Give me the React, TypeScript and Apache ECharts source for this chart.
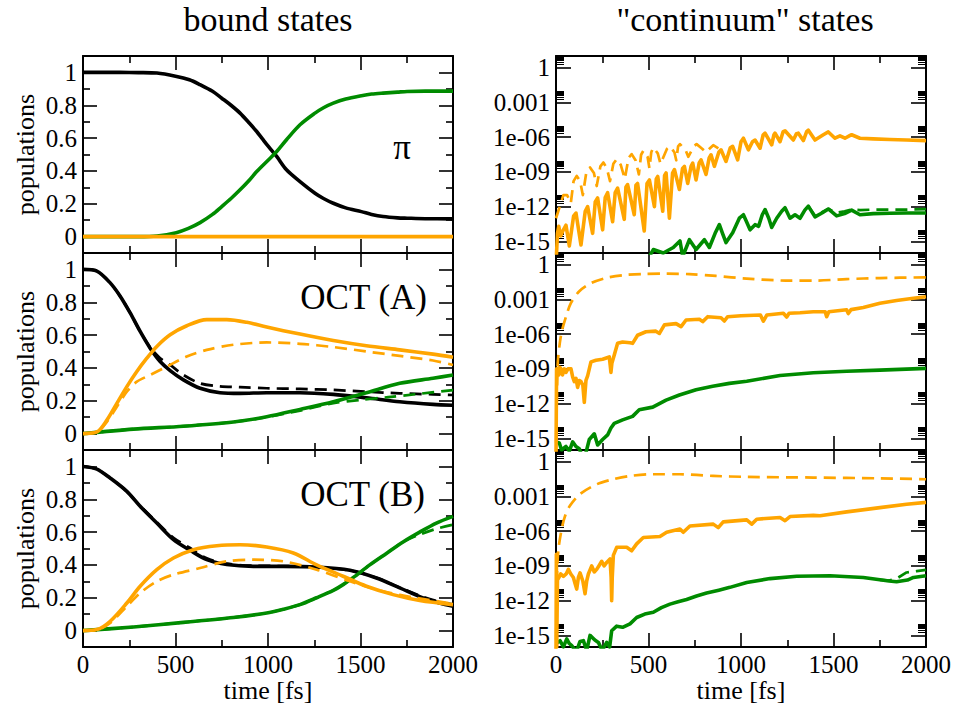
import { useEffect, useRef } from 'react';
import * as echarts from 'echarts';

type P = [number, number];

// ---------------- tick values / labels ----------------
const linMajorTicks = [0, 0.2, 0.4, 0.6, 0.8, 1];
const linMinorTicks = [0.1, 0.3, 0.5, 0.7, 0.9];
const logMajorTicks = [1e-15, 1e-12, 1e-9, 1e-6, 1e-3, 1];
const logMajorLabels = ['1e-15', '1e-12', '1e-09', '1e-06', '0.001', '1'];
const logMinorFactors = [2, 3, 4, 5, 6, 7, 8, 9];

const columnTitles = ['bound states', '"continuum" states'];
const panelLabels = ['π', 'OCT (A)', 'OCT (B)'];

// ---------------- bound states: pi pulse ----------------
const piBlack: P[] = [[0, 1], [200, 1], [300, 0.999], [400, 0.996], [500, 0.977], [575, 0.955], [633, 0.925], [700, 0.885], [750, 0.843], [800, 0.8], [849, 0.752], [900, 0.69], [939, 0.64], [970, 0.595], [1002, 0.549], [1047, 0.488], [1100, 0.407], [1173, 0.335], [1254, 0.264], [1300, 0.232], [1353, 0.203], [1420, 0.175], [1505, 0.152], [1560, 0.135], [1622, 0.122], [1700, 0.114], [1752, 0.112], [1850, 0.109], [2000, 0.108]];
const piGreen: P[] = [[0, 0], [300, 0], [400, 0.004], [504, 0.024], [570, 0.05], [633, 0.085], [700, 0.135], [750, 0.183], [800, 0.232], [849, 0.285], [900, 0.345], [939, 0.396], [1002, 0.467], [1047, 0.518], [1100, 0.59], [1173, 0.681], [1254, 0.752], [1300, 0.785], [1353, 0.813], [1420, 0.838], [1505, 0.858], [1560, 0.868], [1622, 0.874], [1700, 0.88], [1752, 0.884], [1850, 0.886], [2000, 0.886]];
const piOrange: P[] = [[0, 0], [500, 0], [1000, 0], [1500, 0], [2000, 0]];

// ---------------- bound states: OCT (A) ----------------
const aBlack: P[] = [[0, 1], [75, 0.99], [147, 0.918], [201, 0.837], [255, 0.735], [309, 0.622], [363, 0.52], [417, 0.439], [471, 0.384], [543, 0.327], [633, 0.276], [741, 0.249], [849, 0.245], [993, 0.249], [1173, 0.249], [1353, 0.239], [1532, 0.218], [1712, 0.194], [1892, 0.178], [2000, 0.173]];
const aBlackDash: P[] = [[0, 1], [75, 0.99], [147, 0.918], [201, 0.837], [255, 0.735], [309, 0.622], [363, 0.525], [417, 0.459], [471, 0.418], [543, 0.357], [633, 0.306], [741, 0.288], [849, 0.283], [993, 0.276], [1173, 0.272], [1353, 0.266], [1532, 0.255], [1712, 0.245], [1892, 0.239], [2000, 0.235]];
const aOrange: P[] = [[0, 0], [75, 0.01], [129, 0.082], [183, 0.184], [237, 0.286], [291, 0.378], [345, 0.459], [399, 0.531], [471, 0.602], [561, 0.657], [669, 0.694], [777, 0.694], [885, 0.678], [993, 0.649], [1173, 0.606], [1353, 0.567], [1532, 0.535], [1712, 0.51], [1892, 0.484], [2000, 0.465]];
const aOrangeDash: P[] = [[0, 0], [75, 0.008], [129, 0.071], [183, 0.163], [237, 0.255], [291, 0.316], [363, 0.357], [453, 0.408], [561, 0.469], [669, 0.51], [813, 0.541], [993, 0.555], [1173, 0.547], [1353, 0.527], [1532, 0.5], [1712, 0.473], [1892, 0.445], [2000, 0.418]];
const aGreen: P[] = [[0, 0], [273, 0.027], [543, 0.045], [813, 0.071], [993, 0.102], [1173, 0.147], [1353, 0.194], [1532, 0.249], [1712, 0.306], [1892, 0.337], [2000, 0.357]];
const aGreenDash: P[] = [[0, 0], [273, 0.027], [543, 0.045], [813, 0.071], [993, 0.1], [1173, 0.14], [1353, 0.185], [1500, 0.205], [1650, 0.222], [1800, 0.24], [2000, 0.265]];

// ---------------- bound states: OCT (B) ----------------
const bBlack: P[] = [[0, 1], [75, 0.984], [147, 0.929], [237, 0.848], [309, 0.757], [399, 0.655], [489, 0.554], [579, 0.489], [669, 0.432], [777, 0.402], [921, 0.391], [1083, 0.391], [1263, 0.387], [1443, 0.367], [1586, 0.32], [1712, 0.26], [1838, 0.199], [1928, 0.168], [2000, 0.148]];
const bBlackDash: P[] = [[0, 1], [75, 0.984], [147, 0.929], [237, 0.848], [309, 0.76], [399, 0.66], [489, 0.565], [579, 0.503], [669, 0.44], [777, 0.408], [921, 0.395], [1083, 0.393], [1263, 0.388], [1443, 0.366], [1586, 0.322], [1712, 0.262], [1838, 0.205], [1928, 0.175], [2000, 0.16]];
const bOrange: P[] = [[0, 0], [75, 0.006], [147, 0.057], [237, 0.168], [309, 0.27], [399, 0.371], [489, 0.442], [597, 0.493], [723, 0.517], [849, 0.523], [993, 0.509], [1137, 0.473], [1263, 0.4], [1406, 0.331], [1532, 0.27], [1676, 0.219], [1820, 0.183], [2000, 0.158]];
const bOrangeDash: P[] = [[0, 0], [75, 0.004], [147, 0.047], [237, 0.148], [309, 0.229], [399, 0.3], [489, 0.341], [633, 0.381], [777, 0.422], [921, 0.432], [1083, 0.422], [1263, 0.371], [1443, 0.3], [1622, 0.239], [1802, 0.199], [2000, 0.164]];
const bGreen: P[] = [[0, 0], [273, 0.022], [543, 0.05], [813, 0.08], [993, 0.107], [1083, 0.13], [1173, 0.158], [1263, 0.2], [1353, 0.245], [1406, 0.28], [1469, 0.33], [1550, 0.4], [1640, 0.47], [1730, 0.54], [1820, 0.6], [1910, 0.655], [2000, 0.696]];
const bGreenDash: P[] = [[0, 0], [273, 0.022], [543, 0.05], [813, 0.08], [993, 0.107], [1083, 0.13], [1173, 0.158], [1263, 0.2], [1353, 0.245], [1406, 0.28], [1469, 0.33], [1550, 0.4], [1640, 0.47], [1730, 0.54], [1820, 0.585], [1910, 0.62], [2000, 0.645]];

// ---------------- continuum states: pi pulse ----------------
const rPiOrange: P[] = [[0, 1e-17], [8, 5e-15], [15, 2e-14], [25, 3e-15], [40, 1e-14], [54, 2.5e-14], [72, 4e-16], [95, 1.5e-13], [108, 2.8e-13], [135, 5e-16], [158, 4e-13], [171, 1e-12], [198, 5e-15], [212, 2.5e-12], [225, 5.6e-12], [252, 1e-14], [266, 6e-12], [279, 1.6e-11], [306, 5e-14], [320, 1.6e-11], [333, 4e-11], [369, 8e-14], [378, 5e-11], [387, 8e-11], [423, 2e-13], [432, 7e-11], [441, 1e-10], [477, 8e-15], [492, 1e-10], [505, 2e-10], [532, 1e-12], [542, 2.5e-10], [550, 4e-10], [577, 4e-13], [587, 5e-10], [595, 8e-10], [613, 1e-13], [630, 8e-10], [640, 1.6e-9], [667, 3e-11], [684, 2e-9], [694, 3e-9], [712, 1e-10], [730, 3e-9], [739, 5.6e-9], [757, 2e-10], [774, 6e-9], [784, 1.1e-8], [811, 6e-10], [828, 1.6e-8], [838, 3e-8], [856, 3e-9], [880, 5e-8], [892, 8e-8], [919, 8e-9], [942, 1.2e-7], [955, 1.6e-7], [982, 1.1e-8], [1000, 4e-7], [1013, 8e-7], [1040, 8e-8], [1062, 4e-7], [1076, 5.6e-7], [1103, 1.1e-7], [1120, 1.6e-6], [1130, 2.2e-6], [1166, 2.2e-7], [1178, 1.6e-6], [1184, 2.2e-6], [1211, 4e-7], [1228, 3e-6], [1238, 3.5e-6], [1283, 5.6e-7], [1300, 2e-6], [1310, 2.2e-6], [1337, 5e-7], [1355, 3e-6], [1364, 4e-6], [1400, 5.6e-7], [1445, 1.6e-6], [1472, 2.8e-6], [1508, 8e-7], [1535, 1.3e-6], [1562, 8e-7], [1590, 1.4e-6], [1598, 1.6e-6], [1643, 8e-7], [1715, 7e-7], [1805, 6.3e-7], [1895, 5.6e-7], [2000, 5e-7]];
const rPiOrangeDash: P[] = [[0, 1e-13], [20, 1e-12], [40, 1e-11], [60, 1e-11], [80, 2e-12], [95, 1.6e-10], [112, 4.5e-10], [130, 1.6e-10], [145, 1e-11], [165, 1.2e-9], [184, 2.4e-9], [205, 8e-10], [220, 6e-11], [240, 3e-9], [256, 6.5e-9], [275, 2e-9], [292, 1.6e-10], [310, 5e-9], [328, 1.25e-8], [350, 4e-9], [372, 2.5e-10], [392, 1.6e-8], [409, 3.4e-8], [430, 1e-8], [448, 6e-10], [460, 3e-8], [472, 6.6e-8], [495, 2e-8], [505, 2e-9], [515, 5e-8], [526, 1.25e-7], [550, 4e-8], [565, 5e-9], [600, 1e-7], [616, 1.6e-7], [640, 5e-8], [650, 1e-8], [660, 1.6e-7], [670, 2.5e-7], [700, 8e-8], [715, 2e-8], [745, 1.6e-7], [760, 2.5e-7], [790, 1e-7], [810, 5e-8], [850, 2e-7], [880, 1e-7]];
const rPiGreen: P[] = [[480, 1e-17], [526, 2e-16], [580, 1e-16], [634, 3e-16], [670, 1.1e-15], [685, 5e-17], [721, 1.4e-15], [757, 2e-16], [802, 1.4e-15], [829, 3e-16], [860, 5e-15], [883, 2.8e-14], [900, 5e-15], [919, 8e-16], [955, 5.6e-15], [991, 1e-13], [1013, 2e-13], [1030, 5e-14], [1049, 1e-14], [1076, 2.8e-14], [1095, 2e-14], [1115, 2e-13], [1130, 5.6e-13], [1150, 1e-13], [1166, 1.6e-14], [1193, 1e-13], [1220, 4e-13], [1238, 8e-13], [1265, 1e-13], [1292, 2e-13], [1319, 1e-13], [1345, 5e-13], [1364, 1.1e-12], [1400, 1.3e-13], [1440, 3e-13], [1472, 6.3e-13], [1517, 1.6e-13], [1560, 2.5e-13], [1598, 5e-13], [1643, 2e-13], [1715, 2.5e-13], [1805, 2.7e-13], [1895, 2.8e-13], [2000, 2.8e-13]];
const rPiGreenDash: P[] = [[1364, 1.1e-12], [1400, 1.6e-13], [1440, 3.5e-13], [1472, 6.3e-13], [1517, 3e-13], [1560, 4e-13], [1598, 5.6e-13], [1643, 5e-13], [1715, 5.6e-13], [1805, 5.6e-13], [1895, 5.6e-13], [2000, 6e-13]];

// ---------------- continuum states: OCT (A) ----------------
const rAOrange: P[] = [[0, 1e-17], [3, 1e-9], [6, 3e-10], [9, 1e-9], [15, 3e-10], [20, 1.4e-9], [27, 1e-9], [35, 3e-10], [45, 1e-9], [54, 5e-10], [65, 1e-9], [81, 1e-9], [90, 2e-10], [99, 8e-11], [108, 1.5e-10], [117, 2.5e-11], [126, 1e-10], [135, 8e-11], [145, 4e-11], [153, 1.3e-12], [162, 1e-10], [171, 2.5e-10], [189, 4e-9], [216, 5.5e-9], [252, 6.8e-9], [288, 1.07e-8], [293, 2e-9], [297, 5e-10], [302, 3e-9], [315, 1.6e-8], [333, 1.6e-7], [360, 2.1e-7], [400, 1.8e-7], [414, 1.6e-7], [441, 8e-7], [486, 1.6e-6], [540, 1.8e-6], [559, 1.15e-6], [586, 6.3e-6], [649, 8e-6], [676, 4.4e-6], [703, 1.66e-5], [775, 1.9e-5], [793, 1.2e-5], [820, 3.2e-5], [892, 2.6e-5], [910, 1.35e-5], [928, 3.2e-5], [1000, 3.8e-5], [1105, 4.5e-5], [1121, 1.3e-5], [1140, 4.5e-5], [1229, 6.3e-5], [1247, 3e-5], [1260, 6.3e-5], [1319, 7e-5], [1391, 8.5e-5], [1455, 8.5e-5], [1463, 3.2e-5], [1475, 8.5e-5], [1571, 1.25e-4], [1580, 6e-5], [1595, 1.3e-4], [1661, 2e-4], [1751, 4.6e-4], [1841, 8e-4], [1932, 1.25e-3], [2000, 1.7e-3]];
const rAOrangeDash: P[] = [[0, 1e-17], [9, 2e-9], [27, 8e-7], [54, 3.2e-5], [81, 5e-4], [126, 5e-3], [189, 2.5e-2], [270, 7e-2], [360, 0.12], [468, 0.155], [595, 0.165], [721, 0.15], [865, 0.105], [1031, 0.062], [1265, 0.041], [1391, 0.041], [1571, 0.056], [1751, 0.069], [2000, 0.079]];
const rAGreen: P[] = [[0, 5e-16], [18, 4e-16], [30, 1e-16], [54, 2e-16], [72, 8e-17], [90, 5e-16], [108, 2e-16], [126, 1.3e-16], [145, 2e-17], [162, 6e-17], [180, 8e-16], [207, 2.5e-15], [225, 2.7e-16], [252, 8e-16], [279, 2e-15], [297, 8e-15], [315, 2e-14], [360, 4e-14], [414, 8e-14], [450, 3e-13], [523, 5e-13], [595, 2e-12], [667, 5.6e-12], [757, 1.6e-11], [847, 3.2e-11], [937, 5.6e-11], [1031, 8.7e-11], [1211, 2.7e-10], [1391, 4.6e-10], [1571, 6.3e-10], [1751, 7.8e-10], [2000, 1.1e-9]];

// ---------------- continuum states: OCT (B) ----------------
const rBOrange: P[] = [[0, 1e-17], [2, 1e-8], [4, 1e-16], [8, 1e-10], [13, 8e-11], [25, 2e-10], [40, 1.26e-10], [55, 2e-10], [67, 5e-10], [80, 2e-10], [94, 1e-10], [103, 3e-11], [112, 1e-11], [121, 1e-10], [130, 2.5e-10], [145, 5e-11], [157, 4e-12], [166, 5e-11], [175, 2e-10], [193, 1e-9], [207, 3e-10], [220, 5e-10], [235, 1.2e-9], [247, 2.5e-9], [260, 1e-9], [274, 2e-9], [292, 4e-9], [298, 1e-10], [301, 1e-12], [304, 1e-10], [310, 8e-9], [328, 4e-8], [382, 4e-8], [409, 2e-8], [436, 8e-8], [472, 2.8e-7], [562, 3.4e-7], [598, 8e-7], [670, 1.5e-6], [688, 8e-7], [724, 2.8e-6], [850, 4e-6], [877, 2e-6], [904, 6.3e-6], [1031, 9.3e-6], [1058, 4e-6], [1085, 1.07e-5], [1211, 1.5e-5], [1238, 8e-6], [1265, 1.8e-5], [1391, 2.3e-5], [1427, 2.1e-5], [1571, 4.6e-5], [1751, 1.07e-4], [1895, 2.1e-4], [2000, 3e-4]];
const rBOrangeDash: P[] = [[0, 1e-17], [5, 1e-10], [13, 2.5e-8], [31, 1.6e-6], [49, 2e-5], [76, 1.6e-4], [130, 1.6e-3], [220, 1.1e-2], [310, 3e-2], [400, 5.8e-2], [526, 8.1e-2], [670, 8.1e-2], [850, 5.8e-2], [1031, 4.8e-2], [1391, 4.2e-2], [1751, 3.6e-2], [2000, 3e-2]];
const rBGreen: P[] = [[0, 2e-16], [22, 3.5e-16], [40, 1e-16], [58, 5e-16], [72, 2e-16], [85, 1.3e-16], [110, 4e-17], [130, 3e-16], [148, 3.5e-16], [166, 5e-17], [184, 1e-15], [210, 4e-16], [229, 2.5e-16], [250, 5e-17], [274, 2.5e-16], [290, 1e-16], [301, 2.5e-15], [328, 6.3e-15], [360, 5e-15], [400, 1e-14], [436, 3.5e-14], [480, 7e-14], [526, 1e-13], [570, 2.5e-13], [616, 5e-13], [660, 8e-13], [706, 1.26e-12], [760, 2.5e-12], [814, 4.5e-12], [880, 8e-12], [940, 1.4e-11], [1031, 3.7e-11], [1157, 8e-11], [1301, 1.26e-10], [1481, 1.4e-10], [1661, 1e-10], [1751, 6.3e-11], [1800, 5e-11], [1841, 4.3e-11], [1900, 6e-11], [1932, 1e-10], [2000, 1.4e-10]];
const rBGreenDash: P[] = [[1751, 6.3e-11], [1800, 5.5e-11], [1841, 8e-11], [1895, 2.7e-10], [1950, 3.5e-10], [2000, 4.6e-10]];

// ---------------- styling ----------------
const BLACK = '#000000';
const GREEN = '#008b00';
const ORANGE = '#ffa500';
const FONT = "'Liberation Serif', 'Times New Roman', Times, serif";

const logMinorTicks = logMajorTicks.flatMap((m) => logMinorFactors.map((k) => k * m));

function logLabel(v: number): string {
  const e = Math.round(Math.log10(v));
  const i = logMajorTicks.findIndex((t) => Math.round(Math.log10(t)) === e);
  return i >= 0 ? logMajorLabels[i] : '';
}

function buildOption() {
  const lefts = [83, 556];
  const tops = [56, 253, 450];
  const grids: any[] = [];
  const xAxes: any[] = [];
  const yAxes: any[] = [];
  const series: any[] = [];
  const tickLine = { color: '#000', width: 1.6 };
  const logMinorLine = { color: '#000', width: 1 };
  const axisLineStyle = { color: '#000', width: 2 };
  const labelStyle = { fontFamily: FONT, fontSize: 25, lineHeight: 21, color: '#000' };

  for (let row = 0; row < 3; row++) {
    for (let col = 0; col < 2; col++) {
      const g = row * 2 + col;
      grids.push({ left: lefts[col], top: tops[row], width: 370, height: 197 });
      for (const pos of ['bottom', 'top']) {
        const showLab = pos === 'bottom' && row === 2;
        xAxes.push({
          type: 'value', gridIndex: g, position: pos, min: 0, max: 2000, interval: 500,
          axisLine: { show: true, onZero: false, lineStyle: axisLineStyle },
          axisTick: { show: true, inside: true, length: 14, lineStyle: tickLine },
          minorTick: { show: true, splitNumber: 2, length: 7, lineStyle: tickLine },
          splitLine: { show: false }, minorSplitLine: { show: false },
          axisLabel: { show: showLab, margin: 7, formatter: (v: number) => String(v), ...labelStyle },
          name: showLab ? 'time [fs]' : '',
          nameLocation: 'middle', nameGap: 18,
          nameTextStyle: { fontFamily: FONT, fontSize: 26, color: '#000' },
        });
      }
      for (const pos of ['left', 'right']) {
        for (const kind of ['major', 'minor']) {
          const isMain = pos === 'left' && kind === 'major';
          const base = col === 0
            ? { type: 'value', min: -0.1, max: 1.1 }
            : { type: 'log', logBase: 10, min: 1e-16, max: 10 };
          const majors = col === 0 ? linMajorTicks : logMajorTicks;
          const minors = col === 0 ? linMinorTicks : logMinorTicks;
          yAxes.push({
            ...base, gridIndex: g, position: pos,
            axisLine: { show: kind === 'major', onZero: false, lineStyle: axisLineStyle },
            axisTick: {
              show: true, inside: true,
              length: kind === 'major' ? (col === 0 ? 14 : 15) : (col === 0 ? 7 : 8),
              customValues: kind === 'major' ? majors : minors,
              lineStyle: kind === 'minor' && col === 1 ? logMinorLine : tickLine,
            },
            axisLabel: {
              show: isMain, customValues: majors, margin: 6,
              formatter: col === 1 ? logLabel : (v: number) => String(v), ...labelStyle,
            },
            splitLine: { show: false },
            name: isMain && col === 0 ? 'populations' : '',
            nameLocation: 'middle', nameGap: 45,
            nameTextStyle: { fontFamily: FONT, fontSize: 26, color: '#000' },
          });
        }
      }
    }
  }

  const add = (g: number, data: P[], color: string, dashed: boolean, smooth: number | boolean) => {
    series.push({
      type: 'line', xAxisIndex: 2 * g, yAxisIndex: 4 * g, data,
      symbol: 'none', showSymbol: false, smooth, clip: true, silent: true,
      lineStyle: { color, width: dashed ? 2.7 : 3.6, type: dashed ? [12, 7] : 'solid', cap: 'butt', join: 'round' },
    });
  };

  // left column (bound states)
  add(0, piBlack, BLACK, false, 0.3);
  add(0, piGreen, GREEN, false, 0.3);
  add(0, piOrange, ORANGE, false, false);

  add(2, aBlack, BLACK, false, 0.3);
  add(2, aBlackDash, BLACK, true, 0.3);
  add(2, aGreen, GREEN, false, 0.3);
  add(2, aGreenDash, GREEN, true, 0.3);
  add(2, aOrange, ORANGE, false, 0.3);
  add(2, aOrangeDash, ORANGE, true, 0.3);

  add(4, bBlack, BLACK, false, 0.3);
  add(4, bBlackDash, BLACK, true, 0.3);
  add(4, bGreen, GREEN, false, 0.3);
  add(4, bGreenDash, GREEN, true, 0.3);
  add(4, bOrange, ORANGE, false, 0.3);
  add(4, bOrangeDash, ORANGE, true, 0.3);

  // right column (continuum states)
  add(1, rPiGreen, GREEN, false, false);
  add(1, rPiGreenDash, GREEN, true, false);
  add(1, rPiOrange, ORANGE, false, false);
  add(1, rPiOrangeDash, ORANGE, true, false);

  add(3, rAGreen, GREEN, false, false);
  add(3, rAOrange, ORANGE, false, false);
  add(3, rAOrangeDash, ORANGE, true, 0.3);

  add(5, rBGreen, GREEN, false, false);
  add(5, rBGreenDash, GREEN, true, false);
  add(5, rBOrange, ORANGE, false, false);
  add(5, rBOrangeDash, ORANGE, true, 0.3);

  const txt = (text: string, x: number, y: number, size: number, align: string) => ({
    type: 'text', x, y, silent: true,
    style: {
      text, fontSize: size, fontFamily: FONT, fill: '#000',
      align, verticalAlign: 'middle', textAlign: align, textVerticalAlign: 'middle',
    },
  });

  return {
    animation: false,
    backgroundColor: '#ffffff',
    textStyle: { fontFamily: FONT },
    grid: grids,
    xAxis: xAxes,
    yAxis: yAxes,
    series,
    graphic: [
      txt(columnTitles[0], 268, 19, 34, 'center'),
      txt(columnTitles[1], 745, 19, 34, 'center'),
      txt(panelLabels[0], 402, 147, 35, 'center'),
      txt(panelLabels[1], 427, 297, 35, 'right'),
      txt(panelLabels[2], 425, 494, 35, 'right'),
    ],
  };
}

export default function App() {
  const ref = useRef<HTMLDivElement>(null);
  useEffect(() => {
    if (!ref.current) return;
    const chart = echarts.init(ref.current, undefined, { renderer: 'svg' });
    chart.setOption(buildOption() as any);
    return () => chart.dispose();
  }, []);
  return (
    <div
      ref={ref}
      style={{ position: 'absolute', left: 0, top: 0, width: 954, height: 706, background: '#fff' }}
    />
  );
}
